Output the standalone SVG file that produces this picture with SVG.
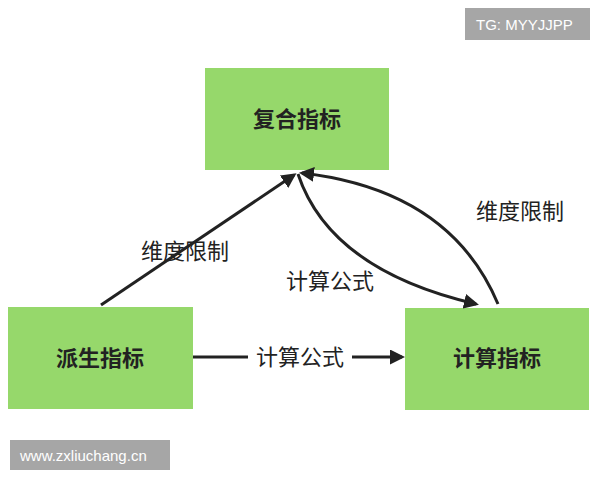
<svg xmlns="http://www.w3.org/2000/svg" width="600" height="480" viewBox="0 0 600 480">
<style>
.box{fill:#96d86b}
.bt{font-family:"Noto Sans CJK SC",sans-serif;font-size:22px;font-weight:bold;fill:#222;text-anchor:middle}
.lt{font-family:"Noto Sans CJK SC",sans-serif;font-size:22px;fill:#222;text-anchor:middle}
.c{fill:none;stroke:#222;stroke-width:3}
.wm{font-family:"Liberation Sans",sans-serif;font-size:15px;fill:#fff}
</style>
<defs><marker id="a" viewBox="0 0 10 10" refX="8" refY="5" markerWidth="5" markerHeight="5" orient="auto" markerUnits="strokeWidth"><path d="M0,0L10,5L0,10z" fill="#222"/></marker></defs>
<rect width="600" height="480" fill="#fff"/>
<g id="n1"><rect class="box" x="205" y="68" width="184" height="102"/><text class="bt" x="297" y="127">复合指标</text></g>
<g id="n2"><rect class="box" x="8" y="307" width="185" height="102"/><text class="bt" x="100" y="366">派生指标</text></g>
<g id="n3"><rect class="box" x="405" y="308" width="184" height="102"/><text class="bt" x="497" y="366">计算指标</text></g>
<g id="edges">
<path class="c" d="M101,305L294,175" marker-end="url(#a)"/>
<path class="c" d="M193,357L402,357" marker-end="url(#a)"/>
<path class="c" d="M298,174Q330,270 476,304" marker-end="url(#a)"/>
<path class="c" d="M498,304Q450,190 302,173" marker-end="url(#a)"/>
<rect x="248" y="343" width="104" height="28" fill="#fff"/>
<text class="lt" x="185" y="259">维度限制</text>
<text class="lt" x="300" y="365">计算公式</text>
<text class="lt" x="330" y="289">计算公式</text>
<text class="lt" x="520" y="219">维度限制</text>
</g>
<rect x="465" y="8" width="125" height="32" fill="#a6a6a6"/><text class="wm" x="476" y="30">TG: MYYJJPP</text>
<rect x="10" y="440" width="160" height="30" fill="#a6a6a6"/><text class="wm" x="20" y="461">www.zxliuchang.cn</text>
</svg>
